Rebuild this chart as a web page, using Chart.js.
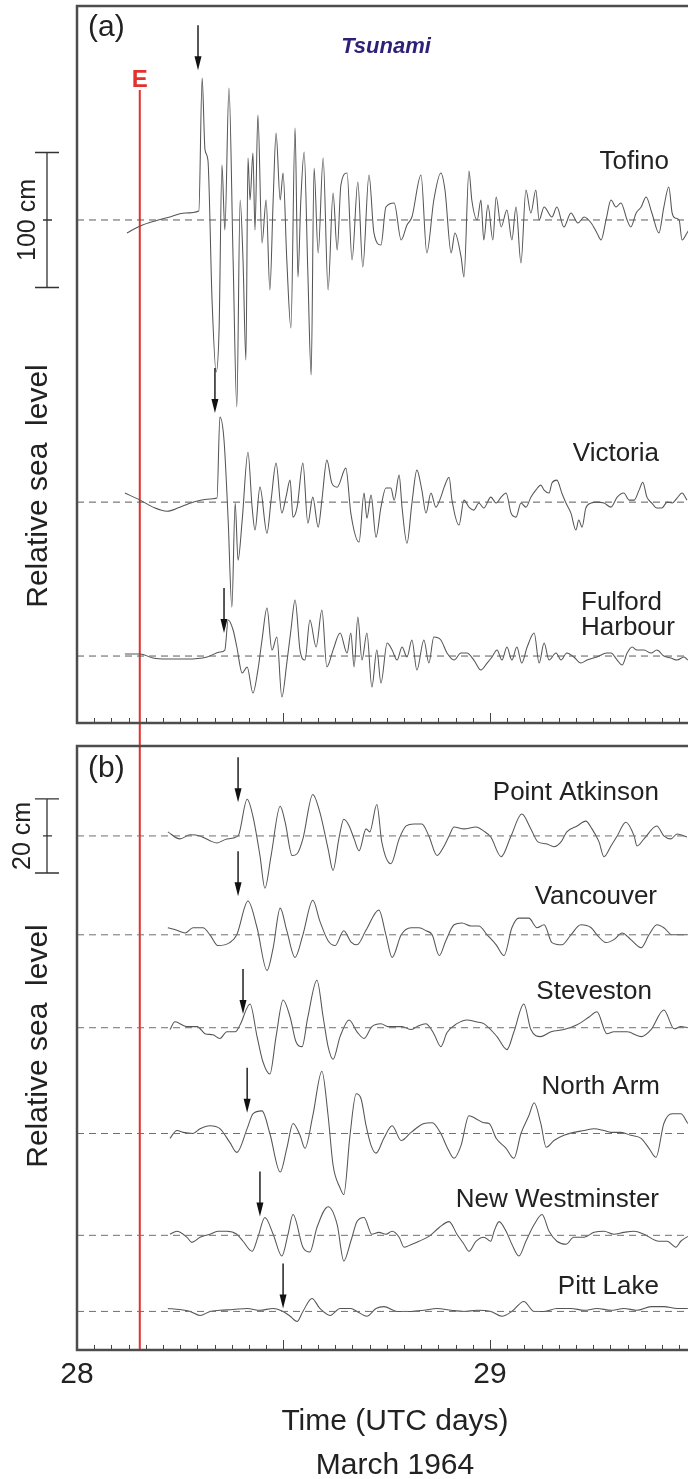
<!DOCTYPE html>
<html>
<head>
<meta charset="utf-8">
<script src="https://cdn.jsdelivr.net/npm/chart.js@4.4.0/dist/chart.umd.min.js"></script>
<style>
html,body{margin:0;padding:0;background:#fff;overflow:hidden}
#wrap{position:relative;width:688px;height:1479px;overflow:hidden;background:#fff}
canvas{position:absolute;left:0}
#chartA{top:0}
#chartB{top:735px}
</style>
</head>
<body>
<div id="wrap">
<canvas id="chartA" width="740" height="735"></canvas>
<canvas id="chartB" width="740" height="753"></canvas>
</div>
<script>
const FONT = "'Liberation Sans', Arial, Helvetica, sans-serif";
Chart.defaults.font.family = FONT;
Chart.defaults.color = '#222';

// time axis (UTC days, March 1964)
const xMin = 28, xMax = 29.54;
const dayTicks = [28, 29];
const quakeTime = 28.152; // E

// ---- panel (a): sea level in cm about each station's mean ----
const tofinoT = [28.121,28.153,28.189,28.225,28.262,28.295,28.303,28.310,28.317,28.327,28.337,28.344,28.351,28.358,28.368,28.378,28.387,28.395,28.402,28.409,28.414,28.419,28.426,28.431,28.438,28.448,28.458,28.467,28.475,28.482,28.492,28.499,28.508,28.518,28.528,28.535,28.542,28.550,28.559,28.567,28.574,28.584,28.596,28.608,28.620,28.630,28.639,28.654,28.666,28.680,28.692,28.707,28.719,28.736,28.748,28.768,28.785,28.799,28.811,28.833,28.847,28.864,28.881,28.891,28.906,28.915,28.930,28.937,28.949,28.956,28.969,28.978,28.985,28.995,29.007,29.015,29.027,29.041,29.053,29.063,29.075,29.087,29.099,29.111,29.119,29.131,29.150,29.162,29.179,29.196,29.213,29.228,29.245,29.259,29.269,29.281,29.293,29.305,29.317,29.332,29.341,29.354,29.366,29.378,29.392,29.409,29.421,29.433,29.441,29.448,29.458,29.465,29.477,29.489];
const tofinoCm = [-9.6,-4.4,-0.7,2.2,5.2,6.7,105.2,51.9,44.4,-59.3,-112.6,-81.5,40.7,-7.4,97.8,-29.6,-138.5,14.8,-29.6,-103.7,45.9,14.8,49.6,-7.4,77.8,-17.0,14.8,-51.9,14.8,64.4,14.8,34.8,-29.6,-80.0,68.1,-42.2,14.8,50.4,-39.3,-114.8,38.5,-24.4,45.9,-51.9,20.0,-22.2,25.9,34.8,-29.6,28.1,-34.8,33.3,-9.6,-18.5,9.6,12.6,-14.8,-3.7,2.2,33.3,-24.4,14.8,34.8,22.2,-24.4,-9.6,-27.4,-42.2,36.3,14.8,0,14.8,-14.8,11.1,-14.8,17.0,-5.2,7.4,-14.8,9.6,-31.9,22.2,5.2,22.2,0,9.6,2.2,9.6,-5.2,5.2,-2.2,2.2,-2.2,-9.6,-14.8,0,14.8,9.6,12.6,0,-5.2,5.2,9.6,17.0,5.2,-9.6,9.6,24.4,5.2,1.5,0,-14.8,-9.6,-3.7];

const victoriaT = [28.116,28.153,28.184,28.218,28.249,28.281,28.315,28.339,28.346,28.356,28.366,28.375,28.383,28.390,28.400,28.414,28.424,28.431,28.443,28.460,28.470,28.482,28.496,28.506,28.516,28.523,28.533,28.547,28.559,28.571,28.584,28.593,28.605,28.617,28.630,28.651,28.663,28.683,28.695,28.702,28.712,28.724,28.736,28.748,28.760,28.768,28.780,28.787,28.799,28.811,28.823,28.835,28.845,28.857,28.869,28.881,28.889,28.901,28.908,28.925,28.937,28.949,28.961,28.973,28.985,29.002,29.015,29.027,29.039,29.051,29.063,29.075,29.087,29.099,29.111,29.123,29.131,29.143,29.150,29.162,29.174,29.184,29.196,29.208,29.215,29.223,29.232,29.245,29.259,29.276,29.293,29.308,29.324,29.337,29.349,29.361,29.370,29.380,29.392,29.404,29.416,29.429,29.441,29.453,29.465,29.477];
const victoriaCm = [6.7,1.5,-3.7,-6.7,-3.7,0,2.2,3.0,63.0,45.9,-13.3,-77.8,-0.7,-43.0,-13.3,37.0,-3.7,-20.7,11.1,-23.0,1.5,28.9,-8.1,3.7,16.3,-11.1,-3.7,28.9,-15.6,3.7,-18.5,1.5,31.1,14.1,11.1,25.2,-8.1,-29.6,6.7,-11.9,5.2,-25.9,-3.7,10.4,10.4,1.5,20.0,-3.7,-30.4,-0.7,23.7,8.9,-8.1,6.7,-3.7,3.7,11.1,18.5,1.5,-17.0,1.5,-3.7,-5.9,-0.7,-4.4,3.7,-0.7,3.7,6.7,-8.1,-11.1,-0.7,-3.7,3.7,8.9,12.6,8.9,6.7,14.1,16.3,6.7,-0.7,-8.1,-20.7,-13.3,-18.5,-4.4,-0.7,0,-0.7,-3.7,3.7,6.7,1.5,1.5,8.9,14.8,3.7,-0.7,-4.4,-4.4,0,-0.7,3.0,6.7,1.5];

const fulfordT = [28.116,28.153,28.184,28.218,28.266,28.315,28.346,28.358,28.366,28.378,28.387,28.400,28.412,28.426,28.438,28.448,28.460,28.472,28.484,28.496,28.508,28.518,28.528,28.540,28.552,28.564,28.579,28.593,28.605,28.620,28.637,28.654,28.663,28.671,28.680,28.690,28.702,28.714,28.726,28.736,28.751,28.763,28.775,28.787,28.799,28.811,28.823,28.840,28.852,28.864,28.881,28.896,28.913,28.930,28.944,28.961,28.978,28.993,29.005,29.017,29.029,29.041,29.053,29.065,29.077,29.090,29.107,29.119,29.131,29.143,29.160,29.172,29.186,29.203,29.220,29.235,29.259,29.283,29.293,29.308,29.320,29.332,29.344,29.356,29.373,29.390,29.404,29.421,29.438,29.453,29.470,29.479];
const fulfordCm = [1.5,1.5,-1.5,-2.2,-2.2,-0.7,3.0,4.4,26.7,19.3,6.7,-12.6,-8.1,-27.4,-10.4,11.9,35.6,4.4,14.1,-30.4,-5.2,19.3,41.5,4.4,-3.0,26.7,6.7,34.1,-8.1,4.4,17.0,2.2,17.0,-8.1,28.9,-3.0,17.0,-23.0,4.4,-20.0,9.6,4.4,-3.0,6.7,-0.7,11.9,-10.4,11.9,-5.2,14.1,11.9,2.2,-3.0,2.2,2.2,-3.0,-10.4,-5.2,-0.7,4.4,-3.0,6.7,-3.0,6.7,-5.2,6.7,17.0,-5.2,9.6,-3.0,2.2,-3.0,2.2,-0.7,-5.2,-3.0,-0.7,2.2,2.2,-3.0,-6.7,2.2,6.7,4.4,4.4,2.2,4.4,0,-1.5,-3.0,-0.7,-3.0];

// first-arrival arrows: time and tip height (cm above station mean)
const arrivalA = [28.293, 28.334, 28.356];
const arrowTipA = [111, 66, 17];

// ---- panel (b) ----
const paT = [28.220,28.249,28.274,28.298,28.322,28.339,28.363,28.390,28.412,28.426,28.443,28.455,28.470,28.492,28.504,28.521,28.533,28.547,28.571,28.588,28.608,28.620,28.634,28.646,28.659,28.671,28.683,28.700,28.709,28.726,28.738,28.760,28.780,28.797,28.816,28.835,28.852,28.872,28.889,28.901,28.913,28.937,28.966,28.985,29.002,29.027,29.051,29.077,29.099,29.116,29.136,29.155,29.172,29.186,29.211,29.232,29.247,29.264,29.276,29.293,29.308,29.329,29.349,29.356,29.373,29.404,29.421,29.438,29.453,29.477];
const paCm = [1.1,-0.8,0.3,0,-1.3,-1.9,-0.8,0,9.9,5.3,-5.3,-14.1,-5.3,8.0,3.7,-5.3,-4.8,-0.8,11.2,6.4,-3.5,-9.3,-0.8,4.5,2.7,-0.8,-4.0,1.9,1.1,8.5,-1.6,-7.5,-0.8,2.7,3.2,3.2,0,-5.3,-2.7,0,2.4,1.9,2.4,1.3,-0.3,-5.6,0,5.9,1.9,-1.6,-2.1,-2.9,-1.6,1.1,2.7,4.0,1.9,-1.6,-5.6,-2.7,0,3.7,0,-2.7,-0.8,2.7,0,-0.8,0.5,-0.3];

const vanT = [28.220,28.240,28.262,28.281,28.305,28.322,28.341,28.370,28.387,28.414,28.436,28.460,28.475,28.492,28.508,28.528,28.547,28.571,28.588,28.608,28.625,28.646,28.663,28.678,28.700,28.731,28.748,28.763,28.785,28.809,28.828,28.845,28.860,28.877,28.893,28.913,28.932,28.954,28.973,28.993,29.015,29.034,29.053,29.070,29.094,29.114,29.131,29.150,29.174,29.196,29.220,29.245,29.259,29.281,29.300,29.320,29.341,29.366,29.385,29.404,29.421,29.441,29.462,29.479];
const vanCm = [1.9,1.3,0.5,1.9,1.9,0,-2.9,-2.1,0,9.1,1.9,-9.6,-3.5,7.2,1.1,-6.1,0,9.3,3.7,-1.6,-2.9,1.1,-1.9,-2.7,1.3,6.7,0,-6.1,0,1.9,1.9,1.1,0,-5.6,-1.6,2.7,3.2,2.4,2.4,0,-2.7,-5.6,1.9,4.5,4.5,1.9,2.7,-2.1,-2.7,0,2.7,1.9,0,-2.1,-1.3,0.5,-1.3,-3.5,0,2.7,1.9,0,0,0];

const stevT = [28.225,28.237,28.266,28.291,28.310,28.329,28.346,28.363,28.383,28.395,28.419,28.436,28.450,28.467,28.482,28.499,28.516,28.530,28.545,28.559,28.581,28.596,28.608,28.620,28.637,28.659,28.678,28.695,28.714,28.736,28.753,28.768,28.787,28.809,28.823,28.845,28.864,28.881,28.896,28.920,28.944,28.966,28.985,29.017,29.041,29.058,29.082,29.099,29.123,29.148,29.179,29.211,29.240,29.259,29.283,29.300,29.332,29.366,29.390,29.421,29.446,29.462,29.479];
const stevCm = [-0.5,1.6,0.3,0.3,-1.6,-1.9,-2.9,-1.1,-1.1,0.8,6.4,-2.4,-9.1,-12.5,-2.4,7.5,2.9,-3.7,-5.1,2.9,12.8,2.9,-5.1,-8.5,-2.4,2.1,-1.1,-2.9,0.3,1.1,0.3,0.3,0.3,-0.5,0.3,1.1,-1.6,-5.1,-1.3,1.1,2.1,1.6,1.1,-2.4,-5.9,-1.1,6.4,-0.5,-2.4,-1.1,-0.5,0.8,2.9,4.3,-1.6,-1.1,-1.1,-2.4,-0.5,4.8,-0.3,0.3,0];

const naT = [28.225,28.242,28.257,28.281,28.298,28.322,28.346,28.370,28.387,28.412,28.426,28.448,28.467,28.492,28.508,28.523,28.540,28.552,28.571,28.593,28.608,28.620,28.637,28.646,28.661,28.676,28.688,28.700,28.712,28.724,28.743,28.763,28.785,28.809,28.840,28.860,28.881,28.896,28.913,28.930,28.949,28.966,28.985,28.998,29.015,29.039,29.058,29.075,29.094,29.107,29.123,29.136,29.155,29.179,29.203,29.228,29.252,29.276,29.293,29.317,29.341,29.366,29.385,29.402,29.421,29.441,29.462,29.479];
const naCm = [-1.3,0.8,0.3,0,1.3,2.1,1.3,-2.4,-5.1,1.3,5.3,6.1,0,-10.4,-4.0,2.7,-0.5,-4.0,4.8,16.8,4.8,-8.5,-14.7,-16.5,-0.5,10.7,9.3,2.1,-3.2,-5.3,-1.3,2.1,-1.9,0.3,2.7,2.9,0,-3.7,-6.7,-3.2,4.8,4.0,2.9,2.7,-1.3,-4.0,-6.7,0,4.8,8.3,2.7,-3.7,-1.9,-0.5,0.3,0.8,1.3,0.8,0.3,0.3,-0.5,-1.3,-4.0,-6.4,2.7,5.3,5.3,2.7];

const nwT = [28.225,28.242,28.266,28.278,28.298,28.322,28.341,28.363,28.387,28.402,28.424,28.438,28.455,28.475,28.496,28.511,28.523,28.547,28.564,28.581,28.608,28.630,28.646,28.663,28.678,28.695,28.714,28.731,28.748,28.763,28.780,28.792,28.811,28.828,28.852,28.877,28.901,28.920,28.937,28.949,28.966,28.985,29.002,29.010,29.022,29.039,29.053,29.070,29.087,29.107,29.126,29.143,29.162,29.184,29.203,29.228,29.252,29.276,29.300,29.324,29.349,29.373,29.409,29.429,29.450,29.462,29.479];
const nwCm = [0.3,1.1,-0.5,-1.9,-0.5,0.3,1.1,1.1,0.3,-1.6,-4.3,-0.5,4.8,0.3,-5.6,0.3,5.6,-3.2,-4.5,2.1,7.7,2.9,-6.9,-1.6,3.7,4.8,0.3,0.8,0.3,1.1,-0.5,-3.2,-2.4,-1.6,-0.3,2.1,3.7,0.3,-2.4,-4.3,-1.6,-0.5,-1.6,1.1,3.7,1.1,-2.4,-5.6,-1.6,2.9,5.6,1.1,-1.6,-2.4,-0.5,-0.5,0.8,1.1,0.3,0.8,1.1,0.3,-1.6,-1.6,-3.2,-1.6,-0.3];

const pittT = [28.220,28.249,28.274,28.298,28.322,28.346,28.378,28.412,28.443,28.475,28.499,28.516,28.533,28.547,28.569,28.588,28.613,28.637,28.663,28.678,28.702,28.724,28.743,28.775,28.809,28.840,28.872,28.906,28.937,28.969,29.002,29.029,29.053,29.082,29.107,29.131,29.162,29.196,29.228,29.259,29.293,29.324,29.356,29.390,29.421,29.453,29.479];
const pittCm = [0.8,0.5,0,-1.1,0,0.3,0.5,0.8,0.3,0.8,0,-1.3,-2.7,0,3.5,0.8,-1.1,0.8,0.8,0,-1.3,0.8,1.3,0,0,0.3,0.8,0.3,0,0.3,0,-1.3,0,2.7,0,0,0.8,0.8,0.3,0.8,0.3,0.8,0.3,1.3,1.3,0.8,0.8];

const arrivalB = [28.390, 28.390, 28.402, 28.412, 28.443, 28.499];
const arrowTipB = [9.1, 10.4, 3.7, 5.6, 5.1, 0.8];

// ---- layout (stacking offsets in cm, label spots in px) ----
const panelA = {
  yMin: -49.6, yMax: 481.5,
  stations: [
    {t: tofinoT, v: tofinoCm, off: 323},
    {t: victoriaT, v: victoriaCm, off: 114},
    {t: fulfordT, v: fulfordCm, off: 0}
  ],
  arrivals: arrivalA, tips: arrowTipA,
  bar: {center: 323, half: 50, label: '100 cm', lx: 28, size: 25},
  quakeTop: 90, quakeBottom: 735,
  panelLabel: {text: '(a)', x: 88, y: 28},
  names: [
    {lines: ['Tofino'], x: 669, y: 162, align: 'right'},
    {lines: ['Victoria'], x: 659, y: 454, align: 'right'},
    {lines: ['Fulford', 'Harbour'], x: 581, y: 603, align: 'left'}
  ],
  sideY: 486
};
const panelB = {
  yMin: -10.4, yMax: 152.53,
  stations: [
    {t: paT, v: paCm, off: 128.27},
    {t: vanT, v: vanCm, off: 101.6},
    {t: stevT, v: stevCm, off: 76.53},
    {t: naT, v: naCm, off: 48},
    {t: nwT, v: nwCm, off: 20.53},
    {t: pittT, v: pittCm, off: 0}
  ],
  arrivals: arrivalB, tips: arrowTipB,
  bar: {center: 128.27, half: 10, label: '20 cm', lx: 23, size: 25},
  quakeTop: 0, quakeBottom: null,
  panelLabel: {text: '(b)', x: 88, y: 34},
  names: [
    {lines: ['Point Atkinson'], x: 659, y: 58, align: 'right'},
    {lines: ['Vancouver'], x: 657, y: 162, align: 'right'},
    {lines: ['Steveston'], x: 652, y: 257, align: 'right'},
    {lines: ['North Arm'], x: 660, y: 352, align: 'right'},
    {lines: ['New Westminster'], x: 659, y: 465, align: 'right'},
    {lines: ['Pitt Lake'], x: 659, y: 552, align: 'right'}
  ],
  sideY: 311
};

function buildSets(p, meanColor) {
  const sets = [];
  p.stations.forEach(s => {
    sets.push({data: [{x: xMin, y: s.off}, {x: xMax, y: s.off}], borderColor: meanColor, borderWidth: 1, borderDash: [7, 5], pointRadius: 0});
  });
  p.stations.forEach(s => {
    sets.push({
      data: s.t.map((t, i) => ({x: t, y: s.v[i] + s.off})),
      borderColor: '#555', borderWidth: 1.05, pointRadius: 0,
      cubicInterpolationMode: 'monotone'
    });
  });
  return sets;
}

function vText(ctx, s, x, y, font) {
  ctx.save();
  ctx.translate(x, y);
  ctx.rotate(-Math.PI / 2);
  ctx.font = font;
  ctx.textAlign = 'center';
  ctx.textBaseline = 'middle';
  ctx.fillText(s, 0, 0);
  ctx.restore();
}

function makeDecor(p, extra) {
  return {
    id: 'decor',
    beforeDatasetsDraw(chart) {
      const {ctx, chartArea: a, scales: {x}} = chart;
      const qx = x.getPixelForValue(quakeTime);
      ctx.save();
      ctx.strokeStyle = '#e4312b';
      ctx.lineWidth = 2;
      ctx.beginPath();
      ctx.moveTo(qx, p.quakeTop);
      ctx.lineTo(qx, p.quakeBottom === null ? a.bottom : p.quakeBottom);
      ctx.stroke();
      ctx.restore();
    },
    afterDatasetsDraw(chart) {
      const {ctx, chartArea: a, scales: {x, y}} = chart;
      ctx.save();
      // hourly ticks, pointing inward
      ctx.strokeStyle = '#444';
      ctx.lineWidth = 1;
      for (let h = 1; xMin + h / 24 < xMax; h++) {
        const px = Math.round(x.getPixelForValue(xMin + h / 24)) + 0.5;
        const len = h % 12 === 0 ? 10 : 5;
        ctx.beginPath();
        ctx.moveTo(px, a.bottom);
        ctx.lineTo(px, a.bottom - len);
        ctx.stroke();
      }
      // panel frame
      ctx.strokeStyle = '#4d4d4d';
      ctx.lineWidth = 2.5;
      ctx.strokeRect(a.left, a.top, a.right - a.left, a.bottom - a.top);

      // arrival arrows
      ctx.fillStyle = '#111';
      ctx.strokeStyle = '#111';
      ctx.lineWidth = 1.4;
      p.arrivals.forEach((t, i) => {
        const px = x.getPixelForValue(t);
        const tip = y.getPixelForValue(p.stations[i].off + p.tips[i]);
        ctx.beginPath();
        ctx.moveTo(px, tip - 45);
        ctx.lineTo(px, tip - 10);
        ctx.stroke();
        ctx.beginPath();
        ctx.moveTo(px - 3.5, tip - 14);
        ctx.lineTo(px + 3.5, tip - 14);
        ctx.lineTo(px, tip);
        ctx.closePath();
        ctx.fill();
      });

      // scale bar
      const b = p.bar;
      const bc = y.getPixelForValue(b.center);
      const bt = y.getPixelForValue(b.center + b.half);
      const bb = y.getPixelForValue(b.center - b.half);
      ctx.strokeStyle = '#333';
      ctx.lineWidth = 1.3;
      ctx.beginPath();
      ctx.moveTo(47, bt); ctx.lineTo(47, bb);
      ctx.moveTo(35, bt); ctx.lineTo(59, bt);
      ctx.moveTo(35, bb); ctx.lineTo(59, bb);
      ctx.moveTo(43, bc); ctx.lineTo(52, bc);
      ctx.stroke();

      ctx.fillStyle = '#222';
      vText(ctx, b.label, b.lx, bc, b.size + 'px ' + FONT);
      vText(ctx, 'Relative sea  level', 39, p.sideY, '30px ' + FONT);

      // panel letter
      ctx.font = '30px ' + FONT;
      ctx.textAlign = 'left';
      ctx.textBaseline = 'middle';
      ctx.fillText(p.panelLabel.text, p.panelLabel.x, p.panelLabel.y);

      // station names
      ctx.font = '26px ' + FONT;
      p.names.forEach(n => {
        ctx.textAlign = n.align;
        n.lines.forEach((s, k) => ctx.fillText(s, n.x, n.y + k * 25));
      });
      if (extra) extra(ctx, x);
      ctx.restore();
    }
  };
}

new Chart(document.getElementById('chartA'), {
  type: 'line',
  data: {datasets: buildSets(panelA, '#5a5a5a')},
  options: {
    responsive: false,
    animation: false,
    events: [],
    layout: {padding: {left: 77, right: 27, top: 6, bottom: 12}},
    scales: {
      x: {type: 'linear', min: xMin, max: xMax, display: false},
      y: {type: 'linear', min: panelA.yMin, max: panelA.yMax, display: false}
    },
    plugins: {legend: {display: false}, tooltip: {enabled: false}}
  },
  plugins: [makeDecor(panelA, (ctx, x) => {
    ctx.textAlign = 'center';
    ctx.textBaseline = 'middle';
    ctx.fillStyle = '#2e1f78';
    ctx.font = 'italic bold 22px ' + FONT;
    ctx.fillText('Tsunami', 386, 47);
    ctx.fillStyle = '#e4312b';
    ctx.font = 'bold 24px ' + FONT;
    ctx.fillText('E', x.getPixelForValue(quakeTime), 80);
  })]
});

new Chart(document.getElementById('chartB'), {
  type: 'line',
  data: {datasets: buildSets(panelB, '#707070')},
  options: {
    responsive: false,
    animation: false,
    events: [],
    layout: {padding: {left: 77, right: 27, top: 11, bottom: 0}},
    scales: {
      x: {
        type: 'linear', min: xMin, max: xMax,
        afterBuildTicks: s => { s.ticks = dayTicks.map(v => ({value: v})); },
        grid: {display: false, drawTicks: false},
        border: {display: false},
        ticks: {font: {size: 30}, color: '#222', padding: 7, autoSkip: false, maxRotation: 0},
        title: {display: true, text: ['Time (UTC days)', 'March 1964'], color: '#222', font: {size: 30, lineHeight: 1.467}, padding: 0}
      },
      y: {type: 'linear', min: panelB.yMin, max: panelB.yMax, display: false}
    },
    plugins: {legend: {display: false}, tooltip: {enabled: false}}
  },
  plugins: [makeDecor(panelB)]
});
</script>
</body>
</html>
